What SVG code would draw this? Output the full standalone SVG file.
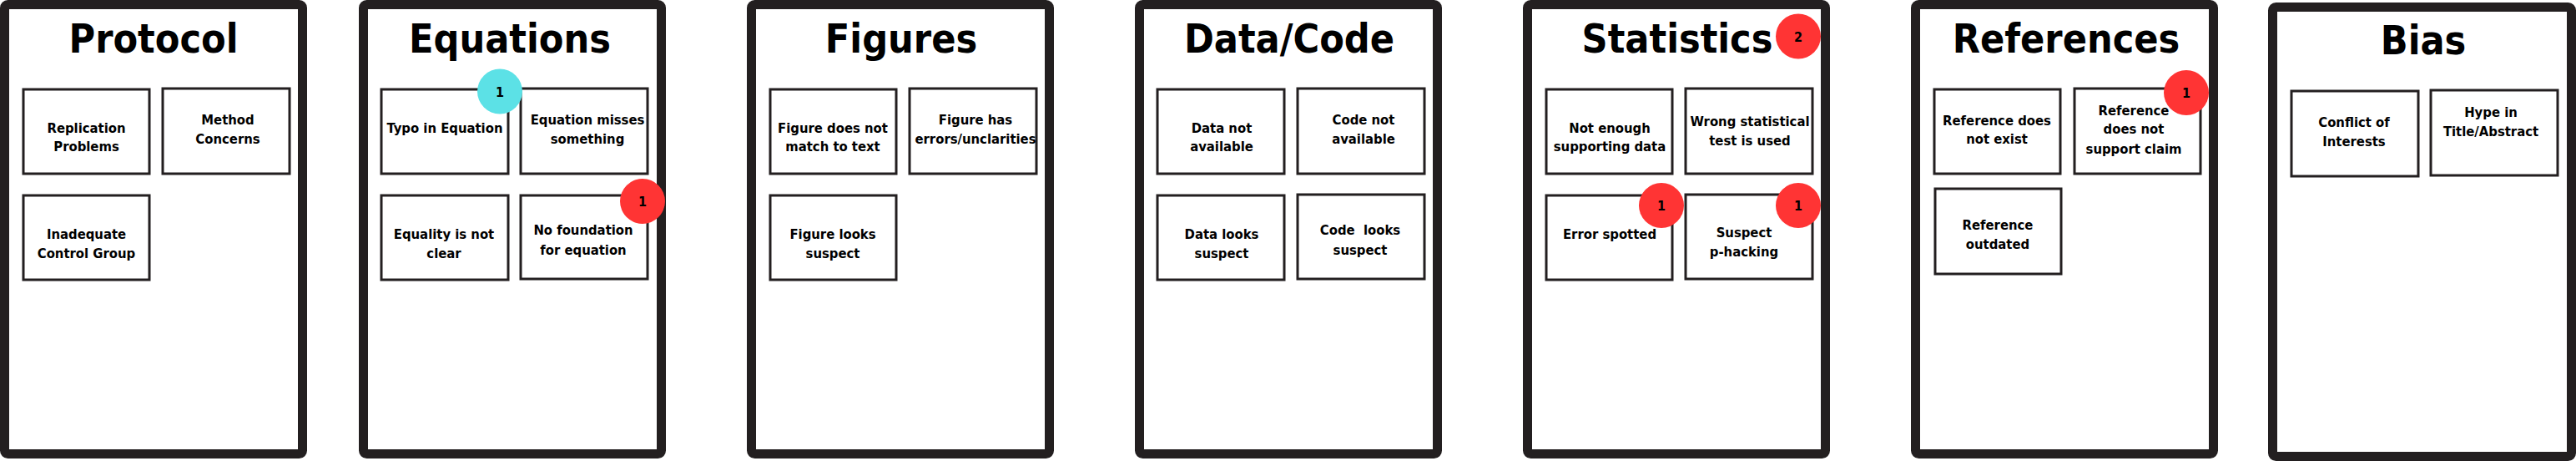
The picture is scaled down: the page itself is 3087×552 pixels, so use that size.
<svg xmlns="http://www.w3.org/2000/svg" width="3087" height="552" viewBox="0 0 3087 552">
<style>
.frame{fill:#fff;stroke:#231f20;stroke-width:11}
.box{fill:#fff;stroke:#231f20;stroke-width:3}
text{font-family:"DejaVu Sans Condensed","DejaVu Sans",sans-serif;font-weight:bold;fill:#000;text-anchor:middle;font-stretch:condensed}
.title{font-size:48px}
.lbl{font-size:16.5px;white-space:pre}
.bt{font-size:16px}
.red{fill:#ff3434}
.cyan{fill:#5ce1e6}
</style>
<rect width="3087" height="552" fill="#fff"/>
<g id="protocol">
<rect class="frame" x="5.5" y="5.5" width="357" height="538" rx="4"/>
<text class="title" x="184" y="63">Protocol</text>
<rect class="box" x="28" y="107" width="151" height="101"/>
<text class="lbl" x="103.5" y="158.5">Replication</text><text class="lbl" x="103.5" y="181">Problems</text>
<rect class="box" x="195" y="106" width="152" height="102"/>
<text class="lbl" x="273" y="149">Method</text><text class="lbl" x="273" y="172">Concerns</text>
<rect class="box" x="28" y="234" width="151" height="101"/>
<text class="lbl" x="103.5" y="286">Inadequate</text><text class="lbl" x="103.5" y="308.5">Control Group</text>
</g>
<g id="equations">
<rect class="frame" x="435.5" y="5.5" width="357" height="538" rx="4"/>
<text class="title" x="611" y="63">Equations</text>
<rect class="box" x="457" y="107" width="152" height="101"/>
<text class="lbl" x="533" y="158.5">Typo in Equation</text>
<rect class="box" x="624" y="106" width="152" height="102"/>
<text class="lbl" x="704" y="149">Equation misses</text><text class="lbl" x="704" y="172">something</text>
<rect class="box" x="457" y="234" width="152" height="101"/>
<text class="lbl" x="532" y="286">Equality is not</text><text class="lbl" x="532" y="308.5">clear</text>
<rect class="box" x="624" y="234" width="152" height="100"/>
<text class="lbl" x="699" y="281">No foundation</text><text class="lbl" x="699" y="304.5">for equation</text>
<circle class="cyan" cx="599" cy="109.5" r="27"/><text class="bt" x="599" y="115.5">1</text>
<circle class="red" cx="770" cy="241" r="27"/><text class="bt" x="770" y="247">1</text>
</g>
<g id="figures">
<rect class="frame" x="900.5" y="5.5" width="357" height="538" rx="4"/>
<text class="title" x="1080" y="63">Figures</text>
<rect class="box" x="923" y="107" width="151" height="101"/>
<text class="lbl" x="998" y="158.5">Figure does not</text><text class="lbl" x="998" y="181">match to text</text>
<rect class="box" x="1090" y="106" width="152" height="102"/>
<text class="lbl" x="1169" y="149">Figure has</text><text class="lbl" x="1169" y="172">errors/unclarities</text>
<rect class="box" x="923" y="234" width="151" height="101"/>
<text class="lbl" x="998" y="286">Figure looks</text><text class="lbl" x="998" y="308.5">suspect</text>
</g>
<g id="datacode">
<rect class="frame" x="1365.5" y="5.5" width="357" height="538" rx="4"/>
<text class="title" x="1545" y="63">Data/Code</text>
<rect class="box" x="1387" y="107" width="152" height="101"/>
<text class="lbl" x="1464" y="158.5">Data not</text><text class="lbl" x="1464" y="181">available</text>
<rect class="box" x="1555" y="106" width="152" height="102"/>
<text class="lbl" x="1634" y="149">Code not</text><text class="lbl" x="1634" y="172">available</text>
<rect class="box" x="1387" y="234" width="152" height="101"/>
<text class="lbl" x="1464" y="286">Data looks</text><text class="lbl" x="1464" y="308.5">suspect</text>
<rect class="box" x="1555" y="233" width="152" height="101"/>
<text class="lbl" x="1630" y="281">Code  looks</text><text class="lbl" x="1630" y="304.5">suspect</text>
</g>
<g id="statistics">
<rect class="frame" x="1830.5" y="5.5" width="357" height="538" rx="4"/>
<text class="title" x="2010" y="63">Statistics</text>
<rect class="box" x="1853" y="107" width="151" height="101"/>
<text class="lbl" x="1929" y="158.5">Not enough</text><text class="lbl" x="1929" y="181">supporting data</text>
<rect class="box" x="2020" y="106" width="152" height="102"/>
<text class="lbl" x="2097" y="151">Wrong statistical</text><text class="lbl" x="2097" y="174">test is used</text>
<rect class="box" x="1853" y="234" width="151" height="101"/>
<text class="lbl" x="1929" y="286">Error spotted</text>
<rect class="box" x="2020" y="233" width="152" height="101"/>
<text class="lbl" x="2090" y="283.5">Suspect</text><text class="lbl" x="2090" y="306.5">p-hacking</text>
<circle class="red" cx="2155" cy="43.5" r="27"/><text class="bt" x="2155" y="49.5">2</text>
<circle class="red" cx="1991" cy="246" r="27"/><text class="bt" x="1991" y="252">1</text>
<circle class="red" cx="2155" cy="246" r="27"/><text class="bt" x="2155" y="252">1</text>
</g>
<g id="references">
<rect class="frame" x="2295.5" y="5.5" width="357" height="538" rx="4"/>
<text class="title" x="2476" y="63">References</text>
<rect class="box" x="2318" y="107" width="151" height="101"/>
<text class="lbl" x="2393" y="150">Reference does</text><text class="lbl" x="2393" y="172">not exist</text>
<rect class="box" x="2486" y="106" width="151" height="102"/>
<text class="lbl" x="2557" y="138">Reference</text><text class="lbl" x="2557" y="160">does not</text><text class="lbl" x="2557" y="183.5">support claim</text>
<rect class="box" x="2319" y="226" width="151" height="102"/>
<text class="lbl" x="2394" y="275">Reference</text><text class="lbl" x="2394" y="298">outdated</text>
<circle class="red" cx="2620" cy="111" r="27"/><text class="bt" x="2620" y="117">1</text>
</g>
<g id="bias">
<rect class="frame" x="2723.5" y="8.5" width="358" height="538" rx="4"/>
<text class="title" x="2904" y="65">Bias</text>
<rect class="box" x="2746" y="109" width="152" height="102"/>
<text class="lbl" x="2821" y="151.5">Conflict of</text><text class="lbl" x="2821" y="174.5">Interests</text>
<rect class="box" x="2913" y="108" width="152" height="102"/>
<text class="lbl" x="2985" y="140">Hype in</text><text class="lbl" x="2985" y="162.5">Title/Abstract</text>
</g>
<g id="connectors"/>
</svg>
